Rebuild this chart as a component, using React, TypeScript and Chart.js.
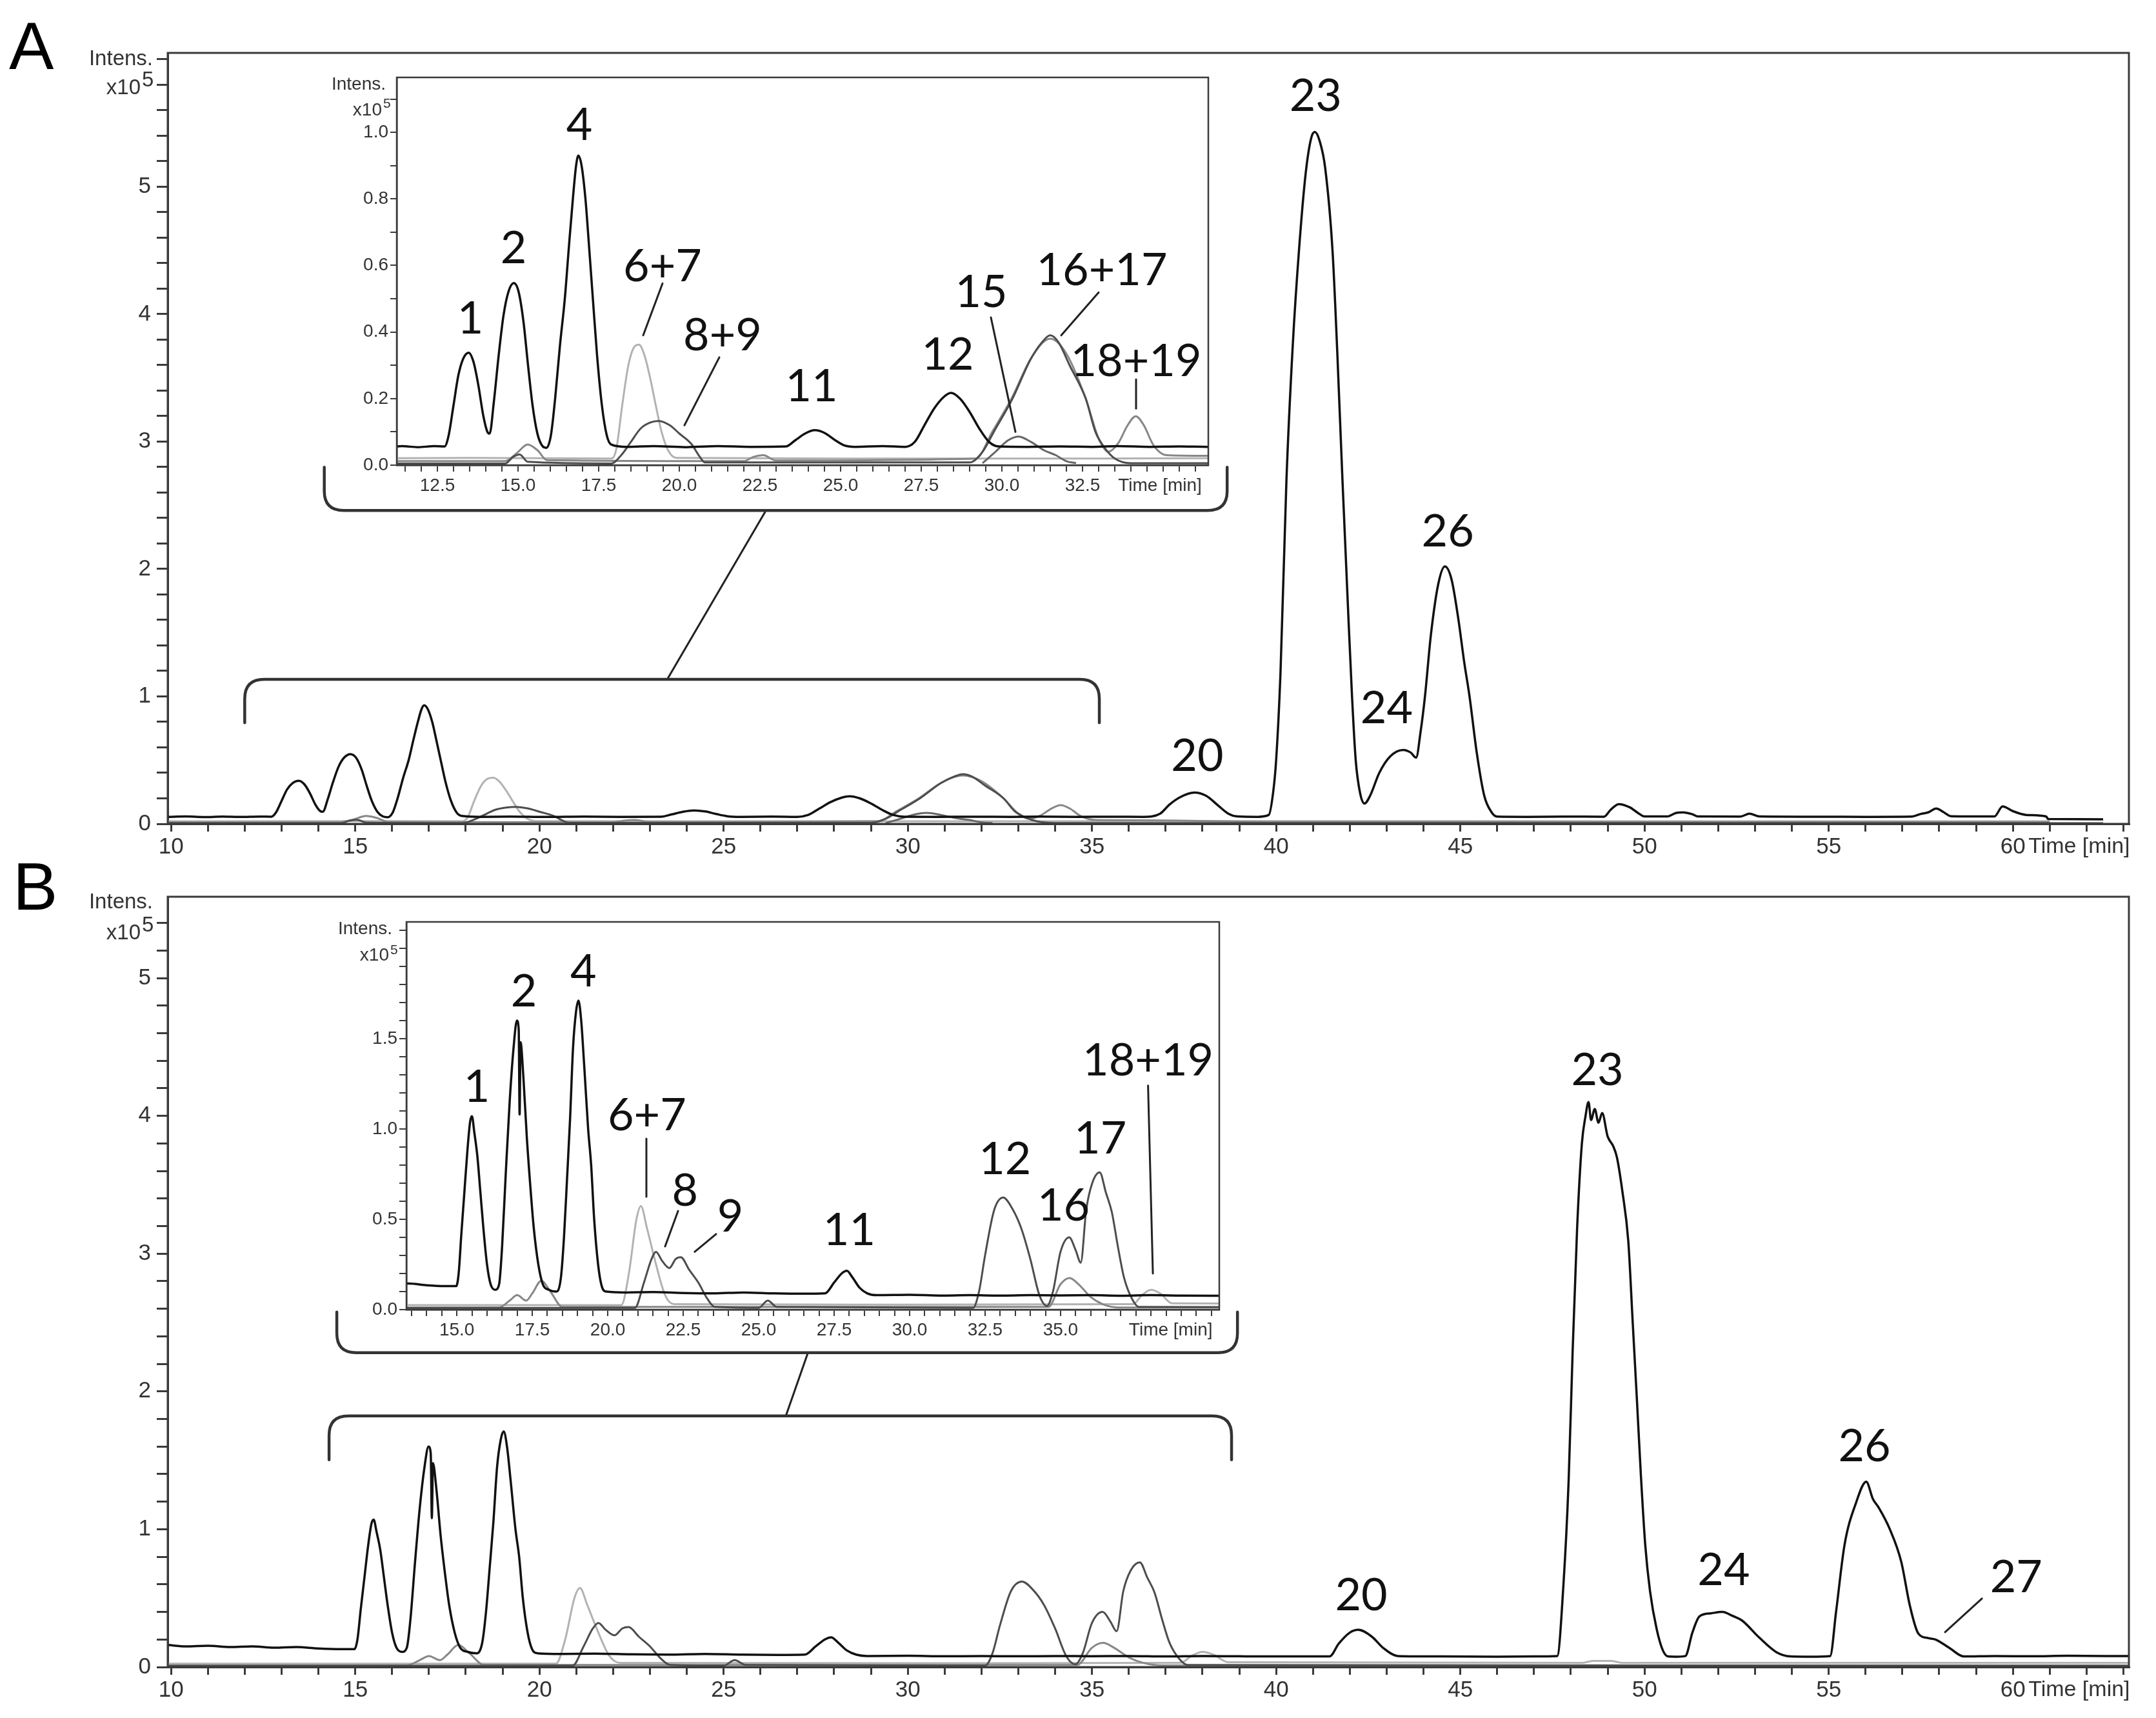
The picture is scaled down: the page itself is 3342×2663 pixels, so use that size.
import React, { useEffect, useRef } from 'react';
import { Chart, registerables } from 'chart.js';
Chart.register(...registerables);

type Pt = [number, number];
type Lbl = { text: string; t: number; i: number };
type Seg = [number, number, number, number];
type Bracket = { t0: number; t1: number; line: number; hook: number };

// ===== Panel A traces: [time (min), intensity (x10^5)] =====
const aBlack: Pt[] = [[9.91,0.055],[10.4,0.058],[10.9,0.053],[11.4,0.057],[11.9,0.054],[12.4,0.057],[12.72,0.056],[12.85,0.09],[13.0,0.18],[13.15,0.27],[13.3,0.32],[13.47,0.338],[13.62,0.31],[13.77,0.24],[13.92,0.15],[14.05,0.1],[14.12,0.095],[14.25,0.19],[14.4,0.33],[14.55,0.45],[14.7,0.52],[14.87,0.547],[15.02,0.52],[15.17,0.43],[15.31,0.3],[15.45,0.18],[15.6,0.095],[15.75,0.058],[15.88,0.052],[16.02,0.09],[16.15,0.2],[16.3,0.36],[16.45,0.5],[16.58,0.66],[16.7,0.8],[16.8,0.9],[16.87,0.93],[16.97,0.9],[17.09,0.8],[17.2,0.66],[17.32,0.5],[17.45,0.33],[17.6,0.18],[17.75,0.09],[17.89,0.062],[18.4,0.055],[19.2,0.057],[20.2,0.054],[21.2,0.057],[22.2,0.055],[23.3,0.056],[23.6,0.075],[23.9,0.095],[24.2,0.105],[24.5,0.097],[24.8,0.077],[25.1,0.06],[25.45,0.055],[26.3,0.057],[27.0,0.055],[27.3,0.07],[27.6,0.12],[27.9,0.17],[28.2,0.205],[28.42,0.217],[28.7,0.2],[29.0,0.16],[29.3,0.11],[29.6,0.07],[29.9,0.056],[30.8,0.055],[31.8,0.056],[32.8,0.055],[33.6,0.057],[34.6,0.055],[35.5,0.056],[36.4,0.055],[36.85,0.08],[37.1,0.15],[37.4,0.21],[37.78,0.245],[38.1,0.22],[38.4,0.15],[38.7,0.08],[38.95,0.058],[39.5,0.055],[39.8,0.07],[39.92,0.25],[40.0,0.5],[40.12,1.2],[40.28,2.7],[40.45,3.75],[40.62,4.5],[40.8,5.1],[40.95,5.38],[41.05,5.43],[41.18,5.36],[41.33,5.15],[41.53,4.5],[41.66,3.7],[41.8,2.7],[41.95,1.7],[42.06,1.0],[42.16,0.5],[42.28,0.24],[42.4,0.16],[42.55,0.22],[42.8,0.4],[43.1,0.53],[43.45,0.58],[43.65,0.56],[43.8,0.52],[43.92,0.72],[44.04,1.0],[44.2,1.48],[44.4,1.88],[44.58,2.02],[44.76,1.92],[44.95,1.6],[45.1,1.28],[45.25,1.0],[45.45,0.55],[45.65,0.22],[45.85,0.09],[46.0,0.057],[46.8,0.055],[47.8,0.057],[48.9,0.056],[49.08,0.11],[49.3,0.155],[49.6,0.13],[49.85,0.08],[50.0,0.058],[50.62,0.058],[50.85,0.085],[51.05,0.09],[51.3,0.075],[51.45,0.058],[52.6,0.057],[52.85,0.08],[53.12,0.058],[54.5,0.056],[56.0,0.055],[57.25,0.057],[57.5,0.078],[57.7,0.09],[57.92,0.12],[58.1,0.095],[58.32,0.06],[59.5,0.058],[59.72,0.137],[60.0,0.1],[60.36,0.07],[60.9,0.058],[60.96,0.038],[62.45,0.036]];
const aLight: Pt[] = [[9.91,0.02],[13.5,0.022],[17.9,0.02],[18.05,0.05],[18.23,0.18],[18.42,0.3],[18.6,0.355],[18.75,0.362],[18.92,0.33],[19.1,0.26],[19.27,0.18],[19.45,0.1],[19.65,0.045],[19.9,0.022],[26.0,0.02],[33.0,0.02],[40.0,0.022],[50.0,0.02],[61.0,0.02]];
const aMid: Pt[] = [[9.91,0.012],[14.6,0.012],[14.95,0.035],[15.3,0.062],[15.6,0.045],[15.9,0.015],[22.0,0.012],[22.3,0.025],[22.6,0.03],[23.0,0.014],[29.2,0.02],[29.7,0.1],[30.3,0.2],[30.9,0.32],[31.5,0.38],[32.0,0.335],[32.6,0.2],[33.0,0.08],[33.3,0.04],[33.6,0.065],[33.9,0.12],[34.15,0.147],[34.4,0.12],[34.7,0.06],[35.1,0.03],[36.4,0.028],[40.0,0.015],[61.0,0.014]];
const aDark: Pt[] = [[9.91,0.005],[14.6,0.005],[14.85,0.025],[15.05,0.032],[15.3,0.01],[17.9,0.005],[18.2,0.03],[18.5,0.07],[18.8,0.11],[19.1,0.128],[19.36,0.133],[19.7,0.12],[20.0,0.095],[20.38,0.063],[20.6,0.03],[20.8,0.008],[29.0,0.008],[29.4,0.04],[29.75,0.1],[30.33,0.2],[30.9,0.32],[31.25,0.37],[31.5,0.39],[31.75,0.37],[32.1,0.3],[32.6,0.2],[32.9,0.1],[33.2,0.05],[33.5,0.02],[34.0,0.006],[62.45,0.005]];
const aPeak15: Pt[] = [[29.4,0.006],[29.8,0.04],[30.2,0.075],[30.52,0.086],[30.9,0.07],[31.3,0.045],[31.67,0.03],[32.0,0.012],[32.3,0.006]];

// ===== Panel B traces =====
const bBlack: Pt[] = [[9.91,0.16],[10.4,0.15],[11.0,0.155],[11.6,0.145],[12.2,0.15],[12.8,0.14],[13.4,0.145],[14.0,0.135],[14.6,0.13],[14.98,0.13],[15.06,0.2],[15.15,0.42],[15.25,0.65],[15.35,0.88],[15.44,1.04],[15.5,1.07],[15.58,0.98],[15.68,0.85],[15.78,0.65],[15.88,0.45],[16.0,0.25],[16.12,0.14],[16.27,0.11],[16.4,0.14],[16.5,0.35],[16.62,0.75],[16.75,1.15],[16.88,1.45],[16.99,1.6],[17.05,1.55],[17.08,1.08],[17.11,1.48],[17.2,1.3],[17.32,0.95],[17.45,0.65],[17.55,0.45],[17.7,0.25],[17.85,0.14],[18.05,0.11],[18.3,0.1],[18.45,0.18],[18.55,0.4],[18.65,0.72],[18.75,1.05],[18.85,1.45],[18.95,1.65],[19.03,1.71],[19.12,1.6],[19.22,1.35],[19.35,1.0],[19.45,0.8],[19.55,0.5],[19.68,0.25],[19.8,0.13],[19.95,0.1],[20.6,0.095],[21.5,0.097],[22.5,0.092],[23.5,0.09],[24.5,0.095],[25.5,0.09],[26.5,0.088],[27.2,0.09],[27.5,0.15],[27.75,0.2],[27.92,0.215],[28.1,0.18],[28.35,0.12],[28.6,0.09],[28.9,0.08],[30.0,0.082],[31.0,0.078],[32.0,0.08],[33.0,0.078],[34.0,0.08],[35.0,0.079],[36.0,0.08],[37.0,0.077],[38.0,0.08],[39.0,0.078],[40.0,0.077],[41.45,0.077],[41.7,0.17],[42.0,0.25],[42.23,0.27],[42.6,0.22],[42.9,0.14],[43.3,0.08],[44.5,0.077],[46.0,0.075],[47.0,0.077],[47.63,0.08],[47.8,0.6],[47.94,1.35],[48.05,2.3],[48.17,3.18],[48.3,3.8],[48.4,4.0],[48.48,4.1],[48.55,3.97],[48.65,4.05],[48.75,3.95],[48.85,4.02],[49.0,3.85],[49.15,3.78],[49.25,3.7],[49.4,3.45],[49.56,3.09],[49.68,2.5],[49.79,1.96],[49.9,1.4],[50.02,0.886],[50.15,0.55],[50.33,0.276],[50.5,0.12],[50.64,0.077],[50.9,0.075],[51.11,0.08],[51.3,0.25],[51.49,0.367],[51.8,0.39],[52.11,0.4],[52.4,0.37],[52.65,0.337],[53.11,0.215],[53.58,0.108],[53.96,0.077],[54.5,0.075],[55.04,0.08],[55.2,0.4],[55.43,0.886],[55.74,1.19],[56.02,1.345],[56.2,1.22],[56.35,1.16],[56.66,1.0],[56.97,0.764],[57.2,0.45],[57.43,0.245],[57.7,0.21],[57.9,0.2],[58.28,0.138],[58.67,0.077],[59.5,0.08],[60.5,0.078],[61.5,0.082],[62.5,0.08],[63.15,0.08]];
const bLight: Pt[] = [[9.91,0.025],[20.45,0.025],[20.7,0.2],[20.95,0.5],[21.1,0.573],[21.3,0.45],[21.6,0.25],[21.9,0.08],[22.2,0.03],[30.0,0.028],[37.4,0.03],[37.7,0.08],[38.0,0.11],[38.3,0.09],[38.7,0.035],[48.3,0.03],[48.6,0.045],[49.1,0.045],[49.4,0.03],[63.15,0.03]];
const bMid: Pt[] = [[9.91,0.012],[16.4,0.012],[16.75,0.05],[17.0,0.08],[17.3,0.05],[17.5,0.09],[17.8,0.16],[18.1,0.1],[18.5,0.015],[34.6,0.015],[35.0,0.14],[35.3,0.175],[35.6,0.14],[36.0,0.07],[36.4,0.03],[36.9,0.012],[63.15,0.012]];
const bDark: Pt[] = [[9.91,0.008],[20.9,0.01],[21.2,0.15],[21.45,0.28],[21.6,0.32],[21.8,0.27],[22.04,0.23],[22.25,0.28],[22.42,0.29],[22.7,0.22],[23.0,0.15],[23.3,0.06],[23.55,0.015],[25.0,0.01],[25.3,0.05],[25.6,0.015],[32.1,0.01],[32.3,0.1],[32.5,0.3],[32.8,0.55],[33.1,0.62],[33.4,0.56],[33.7,0.45],[34.0,0.28],[34.3,0.08],[34.55,0.02],[34.75,0.1],[35.0,0.32],[35.29,0.4],[35.5,0.33],[35.67,0.26],[35.85,0.55],[36.05,0.7],[36.3,0.76],[36.5,0.65],[36.7,0.54],[36.9,0.35],[37.1,0.18],[37.38,0.056],[37.6,0.015],[63.15,0.008]];

// ===== Tick labels =====
const mainXTickLabels = [10, 15, 20, 25, 30, 35, 40, 45, 50, 55, 60];
const mainYTickLabels = [0, 1, 2, 3, 4, 5];
const insetAXTickLabels = [12.5, 15.0, 17.5, 20.0, 22.5, 25.0, 27.5, 30.0, 32.5];
const insetAYTickLabels = [0.0, 0.2, 0.4, 0.6, 0.8, 1.0];
const insetBXTickLabels = [15.0, 17.5, 20.0, 22.5, 25.0, 27.5, 30.0, 32.5, 35.0];
const insetBYTickLabels = [0.0, 0.5, 1.0, 1.5];

// ===== Peak labels (anchored in data units) =====
const aMainPeakLabels: Lbl[] = [
  { text: '20', t: 37.86, i: 0.53 }, { text: '23', t: 41.07, i: 5.71 },
  { text: '24', t: 43.0, i: 0.905 }, { text: '26', t: 44.66, i: 2.29 },
];
const aInsetPeakLabels: Lbl[] = [
  { text: '1', t: 13.52, i: 0.44 }, { text: '2', t: 14.86, i: 0.651 }, { text: '4', t: 16.9, i: 1.021 },
  { text: '6+7', t: 19.48, i: 0.597 }, { text: '8+9', t: 21.34, i: 0.388 }, { text: '11', t: 24.1, i: 0.236 },
  { text: '12', t: 28.32, i: 0.331 }, { text: '15', t: 29.36, i: 0.519 }, { text: '16+17', t: 33.1, i: 0.585 },
  { text: '18+19', t: 34.16, i: 0.312 },
];
const aInsetLeaders: Seg[] = [[19.48,0.546,18.88,0.39],[21.24,0.324,20.16,0.12],[29.66,0.444,30.42,0.1],[33.0,0.519,31.84,0.39],[34.16,0.258,34.16,0.17]];
const bMainPeakLabels: Lbl[] = [
  { text: '20', t: 42.31, i: 0.52 }, { text: '23', t: 48.72, i: 4.33 }, { text: '24', t: 52.15, i: 0.7 },
  { text: '26', t: 55.97, i: 1.6 }, { text: '27', t: 60.09, i: 0.65 },
];
const bMainLeaders: Seg[] = [[59.16,0.497,58.16,0.253]];
const bInsetPeakLabels: Lbl[] = [
  { text: '1', t: 15.66, i: 1.232 }, { text: '2', t: 17.22, i: 1.76 }, { text: '4', t: 19.19, i: 1.87 },
  { text: '6+7', t: 21.3, i: 1.075 }, { text: '8', t: 22.56, i: 0.654 }, { text: '9', t: 24.06, i: 0.514 },
  { text: '11', t: 28.0, i: 0.436 }, { text: '12', t: 33.16, i: 0.832 }, { text: '16', t: 35.1, i: 0.575 },
  { text: '17', t: 36.32, i: 0.946 }, { text: '18+19', t: 37.9, i: 1.378 },
];
const bInsetLeaders: Seg[] = [[21.28,0.946,21.28,0.625],[22.33,0.546,21.9,0.35],[23.59,0.418,22.88,0.32],[37.9,1.24,38.06,0.2]];

// ===== Brackets linking insets to the main traces (main-chart data units) =====
const aBrackets: Bracket[] = [{ t0: 12.0, t1: 35.2, line: 1.134, hook: 0.794 }, { t0: 14.16, t1: 38.67, line: 2.459, hook: 2.798 }];
const aConnectors: Seg[] = [[26.15,2.459,23.47,1.134]];
const bBrackets: Bracket[] = [{ t0: 14.29, t1: 38.79, line: 1.822, hook: 1.504 }, { t0: 14.5, t1: 38.95, line: 2.281, hook: 2.576 }];
const bConnectors: Seg[] = [[27.29,2.281,26.69,1.822]];

// ===== styling =====
const AX = '#3a3a3a';
const FAMILY = '"Liberation Sans", Arial, sans-serif';
const PEAK_FONT = '70px Lato, "Open Sans", sans-serif';
const C_BLACK = '#111111', C_LIGHT = '#b2b2b2', C_MID = '#878787', C_DARK = '#4d4d4d', C_DARK2 = '#666666';

function range(a: number, b: number, step: number): number[] {
  const out: number[] = [];
  const n = Math.round((b - a) / step);
  for (let k = 0; k <= n; k++) out.push(+(a + k * step).toFixed(4));
  return out;
}
const near = (v: number, list: number[]) => list.some((l) => Math.abs(l - v) < 1e-6);

function txt(ctx: any, s: string, x: number, y: number, font: string, align: string, baseline: string, color = '#222') {
  ctx.font = font; ctx.textAlign = align; ctx.textBaseline = baseline; ctx.fillStyle = color; ctx.fillText(s, x, y);
}

function decorate(chart: any, d: any) {
  const ctx = chart.ctx, a = chart.chartArea, xs = chart.scales.x, ys = chart.scales.y;
  const P = (t: number, i: number) => [xs.getPixelForValue(t), ys.getPixelForValue(i)];
  ctx.save();
  ctx.strokeStyle = AX; ctx.lineWidth = d.frameW;
  ctx.strokeRect(a.left, a.top, a.right - a.left, a.bottom - a.top);
  if (d.letter) txt(ctx, d.letter.text, d.letter.x, d.letter.y, `${d.letter.size}px ${FAMILY}`, 'left', 'alphabetic', '#000');
  const f = d.intens;
  txt(ctx, 'Intens.', a.left - f.dxIntens, ys.getPixelForValue(f.iIntens), `${f.size}px ${FAMILY}`, 'right', 'middle', '#333');
  txt(ctx, 'x10', a.left - f.dxX10, ys.getPixelForValue(f.iX10), `${f.size}px ${FAMILY}`, 'right', 'alphabetic', '#333');
  txt(ctx, '5', a.left - f.dxX10 + 2, ys.getPixelForValue(f.iSup), `${f.supSize}px ${FAMILY}`, 'left', 'alphabetic', '#333');
  const tm = d.time;
  const ty = xs.top + tm.tickLen + tm.pad + 0.6 * tm.size;
  txt(ctx, 'Time [min]', xs.getPixelForValue(tm.t) + tm.dx, ty, `${tm.size}px ${FAMILY}`, tm.align, 'middle', '#333');
  for (const l of d.peaks) {
    const [x, y] = P(l.t, l.i);
    txt(ctx, l.text, x, y, PEAK_FONT, 'center', 'middle', '#111');
  }
  ctx.strokeStyle = '#222'; ctx.lineWidth = 3; ctx.lineCap = 'round';
  for (const s of [...d.leaders, ...d.connectors]) {
    const [x0, y0] = P(s[0], s[1]); const [x1, y1] = P(s[2], s[3]);
    ctx.beginPath(); ctx.moveTo(x0, y0); ctx.lineTo(x1, y1); ctx.stroke();
  }
  ctx.strokeStyle = '#333'; ctx.lineWidth = 4.5;
  for (const b of d.brackets) {
    const x0 = xs.getPixelForValue(b.t0), x1 = xs.getPixelForValue(b.t1);
    const yl = ys.getPixelForValue(b.line), yh = ys.getPixelForValue(b.hook);
    const dir = Math.sign(yh - yl), r = 30;
    ctx.beginPath();
    ctx.moveTo(x0, yh);
    ctx.lineTo(x0, yl + dir * r);
    ctx.quadraticCurveTo(x0, yl, x0 + r, yl);
    ctx.lineTo(x1 - r, yl);
    ctx.quadraticCurveTo(x1, yl, x1, yl + dir * r);
    ctx.lineTo(x1, yh);
    ctx.stroke();
  }
  ctx.restore();
}

function buildConfig(s: any) {
  const font = { family: FAMILY, size: s.tickFont };
  return {
    type: 'line',
    data: {
      datasets: s.series.map((d: any) => ({
        data: d.pts.map(([x, y]: Pt) => ({ x, y })),
        borderColor: d.color, borderWidth: d.width, pointRadius: 0, pointHoverRadius: 0,
        fill: false, cubicInterpolationMode: 'monotone', borderJoinStyle: 'round',
      })),
    },
    options: {
      responsive: false, animation: false, devicePixelRatio: 1, events: [],
      layout: { padding: { top: s.padTop, right: s.padRight, left: 0, bottom: 0 } },
      plugins: { legend: { display: false }, tooltip: { enabled: false }, title: { display: false } },
      scales: {
        x: {
          type: 'linear', position: 'bottom', min: s.xMin, max: s.xMax,
          afterFit: (sc: any) => { sc.height = s.xAxisH; },
          afterBuildTicks: (sc: any) => { sc.ticks = s.xTicks.map((v: number) => ({ value: v })); },
          ticks: {
            autoSkip: false, maxRotation: 0, minRotation: 0, padding: s.xPad, color: '#333', font,
            callback: (v: number) => (near(v, s.xLabels) ? v.toFixed(s.xDigits) : ''),
          },
          grid: { display: true, drawOnChartArea: false, drawTicks: true, tickLength: s.xTickLen, color: AX, lineWidth: s.tickW },
          border: { display: true, color: AX, width: s.axisW },
        },
        y: {
          type: 'linear', position: 'left', min: s.yMin, max: s.yMax,
          afterFit: (sc: any) => { sc.width = s.yAxisW; },
          afterBuildTicks: (sc: any) => { sc.ticks = s.yTicks.map((v: number) => ({ value: v })); },
          ticks: {
            autoSkip: false, padding: s.yPad, color: '#333', font,
            callback: (v: number) => (near(v, s.yLabels) ? v.toFixed(s.yDigits) : ''),
          },
          grid: { display: true, drawOnChartArea: false, drawTicks: true, tickLength: s.yTickLen, color: AX, lineWidth: s.tickW },
          border: { display: true, color: AX, width: s.axisW },
        },
      },
    },
    plugins: [{ id: 'deco', afterDraw: (c: any) => decorate(c, s.deco) }],
  };
}

const seriesA = [
  { pts: aBlack, color: C_BLACK, width: 3.5 }, { pts: aPeak15, color: C_DARK2, width: 3 },
  { pts: aDark, color: C_DARK, width: 3 }, { pts: aMid, color: C_MID, width: 3 }, { pts: aLight, color: C_LIGHT, width: 3 },
];
const seriesB = [
  { pts: bBlack, color: C_BLACK, width: 3.5 }, { pts: bDark, color: C_DARK, width: 3 },
  { pts: bMid, color: C_MID, width: 3 }, { pts: bLight, color: C_LIGHT, width: 3 },
];

const specs = [
  { // main A
    left: 0, top: 0, width: 3342, height: 1345, padTop: 82, padRight: 42, yAxisW: 260, xAxisH: 68,
    xMin: 9.91, xMax: 63.15, yMin: 0, yMax: 6.05,
    xTicks: range(10, 63, 1), yTicks: range(0, 6, 0.2), xLabels: mainXTickLabels, yLabels: mainYTickLabels, xDigits: 0, yDigits: 0,
    tickFont: 35, xPad: 3, yPad: 9, xTickLen: 12, yTickLen: 17, tickW: 3, axisW: 3, series: seriesA,
    deco: {
      frameW: 3, letter: { text: 'A', x: 14, y: 107, size: 104 },
      intens: { size: 33, supSize: 33, iIntens: 6.0, iX10: 5.725, iSup: 5.786, dxIntens: 23, dxX10: 42 },
      time: { t: 60, dx: 24, align: 'left', size: 34, tickLen: 12, pad: 3 },
      peaks: aMainPeakLabels, leaders: [], connectors: aConnectors, brackets: aBrackets,
    },
  },
  { // inset A
    left: 450, top: 100, width: 1433, height: 681, padTop: 20, padRight: 10, yAxisW: 165, xAxisH: 60,
    xMin: 11.24, xMax: 36.4, yMin: 0, yMax: 1.165,
    xTicks: range(11.5, 36, 0.5), yTicks: range(0, 1.1, 0.1), xLabels: insetAXTickLabels, yLabels: insetAYTickLabels, xDigits: 1, yDigits: 1,
    tickFont: 28, xPad: 5, yPad: 3, xTickLen: 10, yTickLen: 10, tickW: 2, axisW: 2.5, series: seriesA,
    deco: {
      frameW: 2.5,
      intens: { size: 28, supSize: 21, iIntens: 1.143, iX10: 1.05, iSup: 1.074, dxIntens: 17, dxX10: 23 },
      time: { t: 34.9, dx: 0, align: 'center', size: 28, tickLen: 10, pad: 5 },
      peaks: aInsetPeakLabels, leaders: aInsetLeaders, connectors: [], brackets: [],
    },
  },
  { // main B
    left: 0, top: 1320, width: 3342, height: 1343, padTop: 70, padRight: 42, yAxisW: 260, xAxisH: 79,
    xMin: 9.91, xMax: 63.15, yMin: 0, yMax: 5.59,
    xTicks: range(10, 63, 1), yTicks: range(0, 5.4, 0.2), xLabels: mainXTickLabels, yLabels: mainYTickLabels, xDigits: 0, yDigits: 0,
    tickFont: 35, xPad: 3, yPad: 9, xTickLen: 12, yTickLen: 17, tickW: 3, axisW: 3, series: seriesB,
    deco: {
      frameW: 3, letter: { text: 'B', x: 20, y: 90, size: 104 },
      intens: { size: 33, supSize: 33, iIntens: 5.55, iX10: 5.279, iSup: 5.335, dxIntens: 23, dxX10: 42 },
      time: { t: 60, dx: 24, align: 'left', size: 34, tickLen: 12, pad: 3 },
      peaks: bMainPeakLabels, leaders: bMainLeaders, connectors: bConnectors, brackets: bBrackets,
    },
  },
  { // inset B
    left: 450, top: 1400, width: 1450, height: 690, padTop: 29, padRight: 10, yAxisW: 180, xAxisH: 60,
    xMin: 13.33, xMax: 40.26, yMin: 0, yMax: 2.146,
    xTicks: range(13.5, 40, 0.5), yTicks: range(0, 2.1, 0.1), xLabels: insetBXTickLabels, yLabels: insetBYTickLabels, xDigits: 1, yDigits: 1,
    tickFont: 28, xPad: 5, yPad: 3, xTickLen: 10, yTickLen: 11, tickW: 2, axisW: 2.5, series: seriesB,
    deco: {
      frameW: 2.5,
      intens: { size: 28, supSize: 21, iIntens: 2.107, iX10: 1.932, iSup: 1.968, dxIntens: 22, dxX10: 27 },
      time: { t: 38.65, dx: 0, align: 'center', size: 28, tickLen: 10, pad: 5 },
      peaks: bInsetPeakLabels, leaders: bInsetLeaders, connectors: [], brackets: [],
    },
  },
];

function ChartCanvas({ spec }: { spec: any }) {
  const ref = useRef<HTMLCanvasElement>(null);
  useEffect(() => {
    const chart = new Chart(ref.current as HTMLCanvasElement, buildConfig(spec) as any);
    return () => chart.destroy();
  }, [spec]);
  return (
    <canvas
      ref={ref}
      width={spec.width}
      height={spec.height}
      style={{ position: 'absolute', left: spec.left, top: spec.top, width: spec.width, height: spec.height }}
    />
  );
}

export default function App() {
  return (
    <div style={{ position: 'absolute', left: 0, top: 0, width: 3342, height: 2663, background: '#fff', overflow: 'hidden' }}>
      {specs.map((s, k) => <ChartCanvas key={k} spec={s} />)}
    </div>
  );
}
